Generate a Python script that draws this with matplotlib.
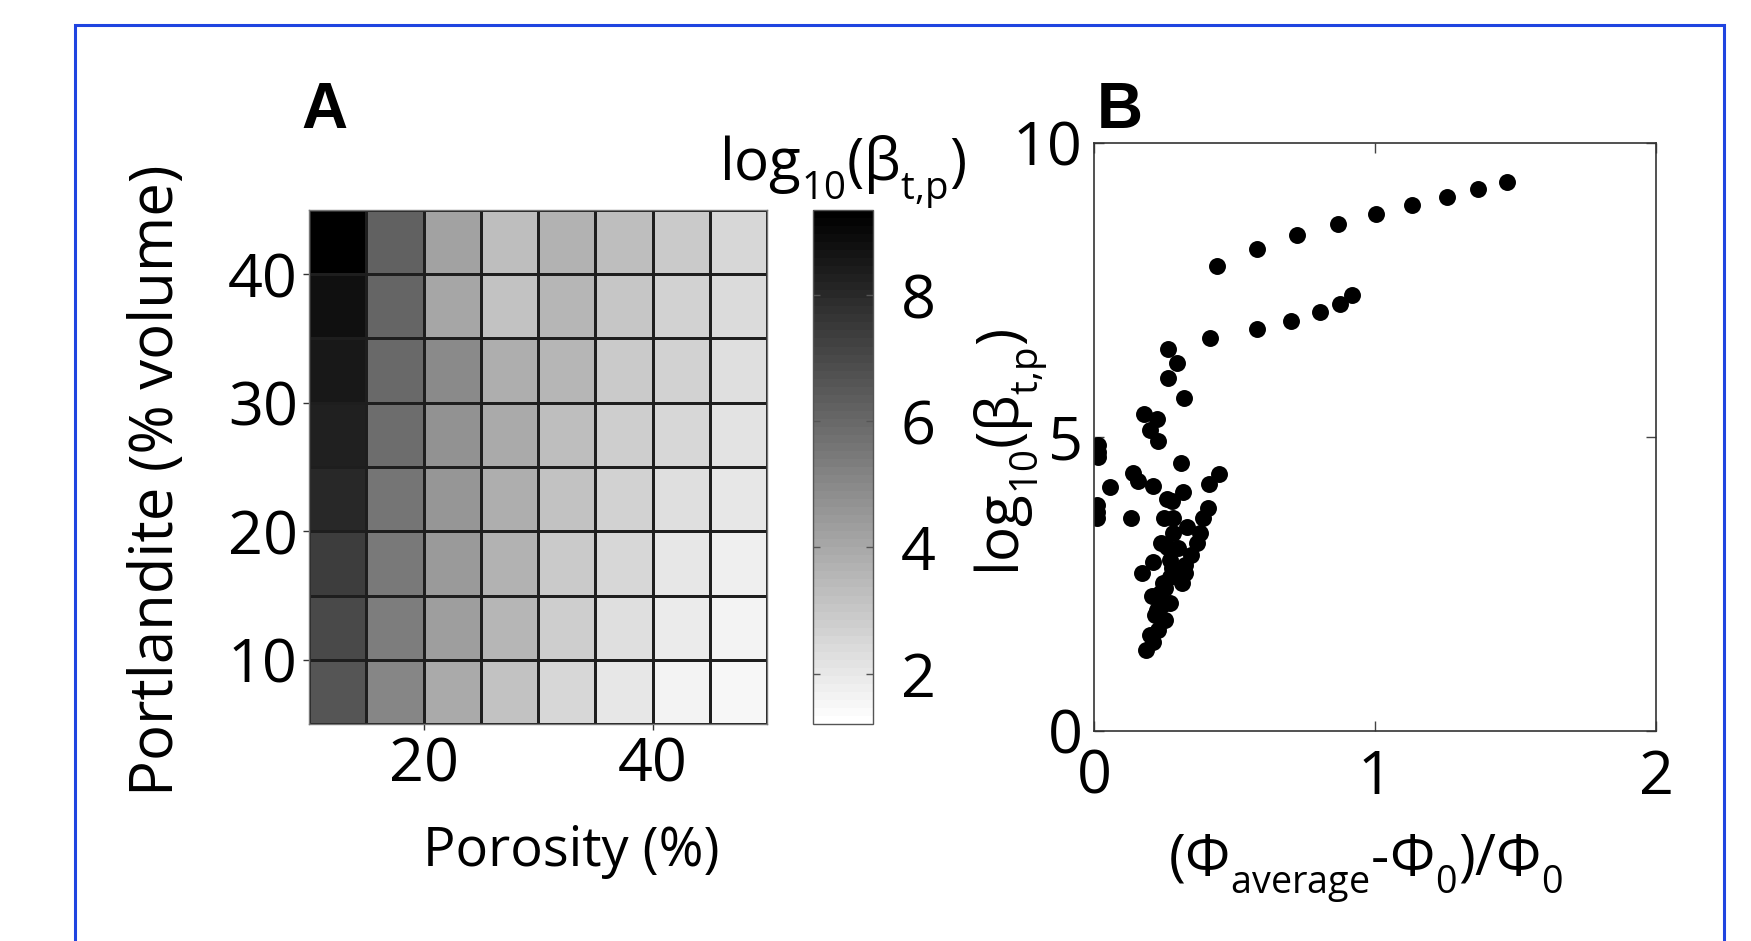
import numpy as np
import matplotlib
matplotlib.use("Agg")
import matplotlib.pyplot as plt
import matplotlib._mathtext as _mt
from matplotlib.colors import Normalize
from matplotlib.patches import Rectangle

# ---------------- data ----------------
porosity_edges = [10, 15, 20, 25, 30, 35, 40, 45, 50]
portlandite_edges = [5, 10, 15, 20, 25, 30, 35, 40, 45]
# log10(beta_t,p); rows from portlandite 5-10 (bottom) to 40-45 (top)
row_5_10 = [6.63, 5.13, 3.98, 3.12, 2.48, 2.00, 1.68, 1.46]
row_10_15 = [7.05, 5.36, 4.30, 3.50, 2.80, 2.32, 1.84, 1.62]
row_15_20 = [7.43, 5.51, 4.49, 3.66, 2.96, 2.54, 2.06, 1.74]
row_20_25 = [7.98, 5.61, 4.62, 3.76, 3.12, 2.70, 2.32, 2.00]
row_25_30 = [8.26, 5.83, 4.72, 3.92, 3.28, 2.80, 2.48, 2.13]
row_30_35 = [8.49, 5.93, 4.94, 3.85, 3.60, 2.96, 2.64, 2.29]
row_35_40 = [8.81, 6.06, 4.08, 3.18, 3.60, 3.05, 2.70, 2.42]
row_40_45 = [9.35, 6.22, 4.14, 3.28, 3.72, 3.28, 2.89, 2.54]
heat_rows = [row_5_10, row_10_15, row_15_20, row_20_25,
             row_25_30, row_30_35, row_35_40, row_40_45]
color_limits = [1.2, 9.35]
heat_xticks = [20, 40]
heat_yticks = [10, 20, 30, 40]
cbar_ticks = [2, 4, 6, 8]

phi_rel = [0.438, 0.581, 0.724, 0.867, 1.003, 1.133, 1.258, 1.368, 1.470,
           0.413, 0.579, 0.700, 0.806, 0.877, 0.918,
           0.264, 0.294, 0.264, 0.321, 0.179, 0.223, 0.199, 0.227,
           0.013, 0.013, 0.013,
           0.308, 0.138, 0.155, 0.057, 0.209, 0.445, 0.409, 0.318,
           0.259, 0.279, 0.405, 0.010, 0.010, 0.010, 0.131, 0.250, 0.282, 0.389,
           0.330, 0.282, 0.377, 0.238, 0.365, 0.300, 0.259, 0.345, 0.211, 0.270,
           0.324, 0.279,
           0.172, 0.324, 0.270, 0.314, 0.247, 0.253, 0.235, 0.205, 0.270, 0.243,
           0.223, 0.217, 0.253, 0.229, 0.199, 0.211, 0.185]
log_beta = [7.91, 8.20, 8.43, 8.62, 8.79, 8.94, 9.08, 9.21, 9.34,
            6.68, 6.84, 6.97, 7.12, 7.27, 7.41,
            6.49, 6.26, 6.00, 5.67, 5.39, 5.31, 5.12, 4.94,
            4.86, 4.75, 4.66,
            4.56, 4.38, 4.26, 4.15, 4.17, 4.37, 4.20, 4.06,
            3.94, 3.92, 3.80, 3.84, 3.73, 3.62, 3.63, 3.62, 3.62, 3.63,
            3.47, 3.36, 3.36, 3.20, 3.19, 3.11, 3.13, 2.99, 2.88, 2.91,
            2.82, 2.77,
            2.68, 2.68, 2.62, 2.52, 2.51, 2.43, 2.34, 2.30, 2.17, 2.14,
            2.06, 1.97, 1.89, 1.72, 1.63, 1.52, 1.38]
scatter_xticks = [0, 1, 2]
scatter_yticks = [0, 5, 10]

# ---------------- style ----------------
plt.rcParams['font.family'] = ['Open Sans', 'DejaVu Sans']
plt.rcParams['mathtext.fontset'] = 'custom'
plt.rcParams['mathtext.rm'] = 'Open Sans'
plt.rcParams['mathtext.it'] = 'Open Sans:italic'
plt.rcParams['mathtext.bf'] = 'Open Sans:bold'
# MATLAB-like subscripts: a bit smaller and dropped lower
try:
    _mt.SHRINK_FACTOR = 0.66
    _mt.FontConstantsBase.sub1 = 0.62
except Exception:
    pass

W, H = 1751, 941
fig = plt.figure(figsize=(W / 100, H / 100), dpi=100)


def fx(px):
    return px / W


def fy(py):
    return 1 - py / H


def box(l, t, r, b):
    return [fx(l), fy(b), (r - l) / W, (b - t) / H]


# blue frame
fig.patches.append(Rectangle((fx(75), fy(960)), (1724 - 75) / W, (960 - 25) / H,
                             transform=fig.transFigure, fill=False,
                             edgecolor='#1f44e0', linewidth=2.2))

TICK = 44
ax1 = fig.add_axes(box(309, 210, 767, 724))
cax = fig.add_axes(box(813, 210, 873, 724))
ax2 = fig.add_axes(box(1094, 143, 1656, 731))

cmap = plt.get_cmap('gray_r', 64)
norm = Normalize(vmin=color_limits[0], vmax=color_limits[1])
mesh = ax1.pcolormesh(porosity_edges, portlandite_edges, np.array(heat_rows),
                      cmap=cmap, norm=norm, edgecolors='#1e1e1e', linewidth=0.9)
ax1.set_xlim(porosity_edges[0], porosity_edges[-1])
ax1.set_ylim(portlandite_edges[0], portlandite_edges[-1])
ax1.set_xticks(heat_xticks)
ax1.set_yticks(heat_yticks)
ax1.tick_params(direction='out', length=4, width=1, labelsize=TICK, pad=4,
                color='#333333')
for s in ax1.spines.values():
    s.set_color('#777777')
    s.set_linewidth(1.0)

cb = fig.colorbar(mesh, cax=cax, ticks=cbar_ticks)
cb.outline.set_edgecolor('#555555')
cb.outline.set_linewidth(1.0)
cax.tick_params(direction='in', length=5, width=1, labelsize=TICK, pad=20,
                left=True, right=True, color='#555555')

ax2.plot(phi_rel, log_beta, 'o', color='black', markersize=12.2,
         markeredgewidth=0, linestyle='none')
ax2.set_xlim(0, 2)
ax2.set_ylim(0, 10)
ax2.set_xticks(scatter_xticks)
ax2.set_yticks(scatter_yticks)
ax2.tick_params(direction='in', length=7, width=1, labelsize=TICK,
                top=True, right=True, color='#444444')
ax2.tick_params(axis='x', pad=12)
ax2.tick_params(axis='y', pad=8)
for s in ax2.spines.values():
    s.set_color('#333333')
    s.set_linewidth(1.2)

# labels
beta_label = r'$\mathrm{log_{10}(\beta_{t{,}p})}$'
fig.text(fx(324), fy(128), 'A', fontsize=46, fontweight='bold',
         family='Liberation Sans', ha='center', va='baseline')
fig.text(fx(1120), fy(128), 'B', fontsize=46, fontweight='bold',
         family='Liberation Sans', ha='center', va='baseline')
fig.text(fx(157), fy(480), 'Portlandite (% volume)', fontsize=43,
         rotation=90, ha='center', va='center')
fig.text(fx(571), fy(866), 'Porosity (%)', fontsize=39, ha='center',
         va='baseline')
fig.text(fx(843), fy(180), beta_label, fontsize=42,
         ha='center', va='baseline')
fig.text(fx(1011), fy(452), beta_label, fontsize=42,
         rotation=90, ha='center', va='center')
fig.text(fx(1366), fy(875), r'$\mathrm{(\Phi_{average}\text{-}\Phi_0)/\Phi_0}$',
         fontsize=41, ha='center', va='baseline')

fig.savefig('out.png', dpi=100)
